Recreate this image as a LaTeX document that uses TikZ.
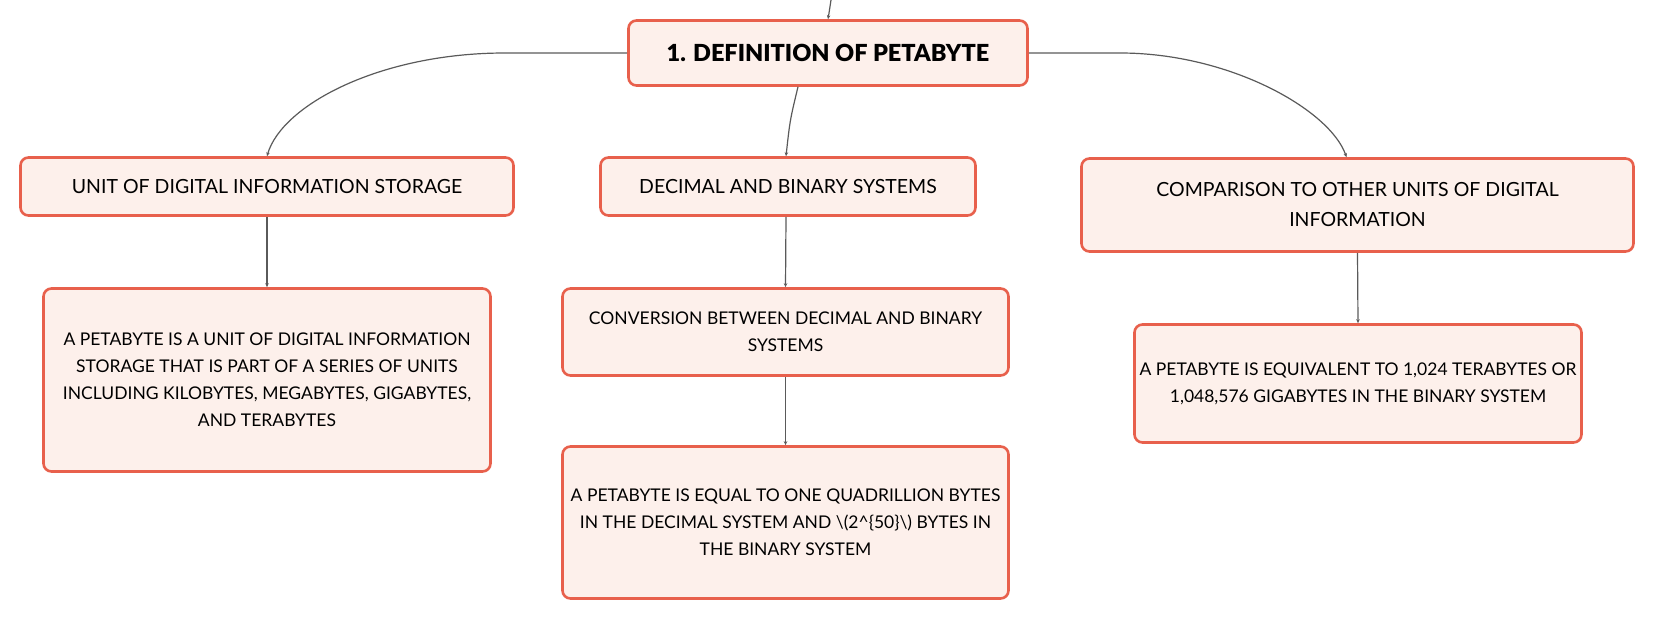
\documentclass[tikz,border=0pt]{standalone}
\usepackage{fontspec}
\setmainfont{Lato}
\newfontfamily\titlefont{Lato Black}
\usetikzlibrary{arrows.meta}
\definecolor{boxborder}{HTML}{E8604C}
\definecolor{boxfill}{HTML}{FDF0EB}
\definecolor{linkgray}{HTML}{5A5A5A}
\tikzset{
  mbox/.style={draw=boxborder, fill=boxfill, line width=2.6pt, rounded corners=8pt,
    align=center, inner sep=0pt, font=\fontsize{17.5}{27}\selectfont},
  subbox/.style={mbox, font=\fontsize{19.5}{30}\selectfont},
  titlebox/.style={mbox, font=\fontsize{23.5}{28}\titlefont},
  link/.style={draw=linkgray, line width=1.2pt, -{Stealth[length=4pt,width=3.5pt]}},
}
\begin{document}
\begin{tikzpicture}[x=1pt,y=-1pt]
\useasboundingbox (0,0) rectangle (1655,620);
\node[titlebox, minimum width=399pt, minimum height=65pt] (top) at (828,53) {1. DEFINITION OF PETABYTE};
\node[subbox, minimum width=493pt, minimum height=58pt] (l1) at (267,186.5) {UNIT OF DIGITAL INFORMATION STORAGE};
\node[subbox, minimum width=375pt, minimum height=58pt] (m1) at (788,186.5) {DECIMAL AND BINARY SYSTEMS};
\node[subbox, minimum width=552pt, minimum height=93pt] (r1) at (1357.5,205) {COMPARISON TO OTHER UNITS OF DIGITAL\\INFORMATION};
\node[mbox, minimum width=447pt, minimum height=183pt] (l2) at (267,380) {A PETABYTE IS A UNIT OF DIGITAL INFORMATION\\STORAGE THAT IS PART OF A SERIES OF UNITS\\INCLUDING KILOBYTES, MEGABYTES, GIGABYTES,\\AND TERABYTES};
\node[mbox, minimum width=446pt, minimum height=87pt] (m2) at (785.5,332) {CONVERSION BETWEEN DECIMAL AND BINARY\\SYSTEMS};
\node[mbox, minimum width=446pt, minimum height=152pt] (m3) at (785.5,522.5) {A PETABYTE IS EQUAL TO ONE QUADRILLION BYTES\\IN THE DECIMAL SYSTEM AND \textbackslash(2\textasciicircum\{50\}\textbackslash) BYTES IN\\THE BINARY SYSTEM};
\node[mbox, minimum width=447pt, minimum height=118pt] (r2) at (1358,383.5) {A PETABYTE IS EQUIVALENT TO 1,024 TERABYTES OR\\1,048,576 GIGABYTES IN THE BINARY SYSTEM};
\coordinate (parent) at (831,0);
\draw[link] (parent) .. controls (830,8) .. (top.north);
\draw[link] (top.west) -- (505,53) .. controls (380,53) and (282,105) .. (l1.north);
\draw[link] ([xshift=-30pt]top.south) .. controls (790,120) .. ([xshift=-2pt]m1.north);
\draw[link] (top.east) -- (1120,53) .. controls (1230,53) and (1330,110) .. ([xshift=-11pt]r1.north);
\draw[link] (l1.south) -- (l2.north);
\draw[link] ([xshift=-2pt]m1.south) -- (m2.north);
\draw[link] (m2.south) -- (m3.north);
\draw[link] (r1.south) -- (r2.north);
\end{tikzpicture}
\end{document}
